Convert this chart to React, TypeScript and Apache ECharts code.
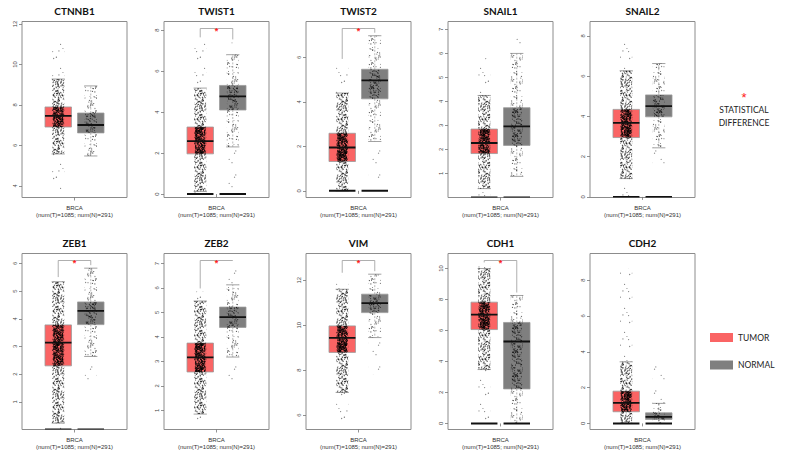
import React, { useEffect, useRef } from "react";
import * as echarts from "echarts";

// ---------------- data ----------------
const genes = ["CTNNB1", "TWIST1", "TWIST2", "SNAIL1", "SNAIL2", "ZEB1", "ZEB2", "VIM", "CDH1", "CDH2"];
const sampleLabel = "BRCA";
const countLabel = "(num(T)=1085; num(N)=291)";
const seriesNames = ["TUMOR", "NORMAL"];

// box statistics: [lower whisker, Q1, median, Q3, upper whisker]
const tumorStats = [
  [5.58, 6.91, 7.46, 7.9, 9.28],
  [0.13, 1.96, 2.58, 3.27, 5.17],
  [0.0, 1.32, 1.95, 2.59, 4.4],
  [0.37, 1.83, 2.27, 2.85, 4.25],
  [0.91, 2.95, 3.68, 4.35, 6.27],
  [0.23, 2.3, 3.14, 3.78, 5.34],
  [0.85, 2.57, 3.17, 3.75, 5.47],
  [7.01, 8.79, 9.44, 9.97, 11.6],
  [3.48, 6.06, 7.03, 7.83, 10.0],
  [0.0, 0.65, 1.15, 1.8, 3.44],
];
const normalStats = [
  [5.48, 6.62, 7.01, 7.6, 8.94],
  [2.3, 4.1, 4.77, 5.3, 6.8],
  [2.22, 4.14, 4.97, 5.47, 6.98],
  [0.88, 2.17, 2.96, 3.74, 6.0],
  [2.44, 3.98, 4.51, 5.07, 6.63],
  [2.64, 3.79, 4.29, 4.61, 5.83],
  [3.18, 4.39, 4.81, 5.22, 6.13],
  [9.45, 10.56, 10.98, 11.38, 12.27],
  [0.0, 2.23, 5.29, 6.52, 8.26],
  [0.0, 0.22, 0.37, 0.59, 1.12],
];
// extent of the individual sample points: [min, max]
const tumorExtent = [
  [3.75, 11.26], [0, 7.5], [0, 5.8], [0, 5.8], [0, 8.0],
  [0, 5.4], [0.47, 5.86], [5.66, 12.2], [0, 10.2], [0, 8.66],
];
const normalExtent = [
  [5.48, 8.94], [0.3, 7.4], [0.48, 6.98], [0.88, 6.77], [1.58, 6.63],
  [1.73, 5.83], [2.04, 7.0], [7.78, 12.27], [0, 8.26], [0, 3.66],
];
// cluster of samples with zero expression (1 = present)
const tumorZero = [0, 1, 1, 1, 1, 1, 0, 0, 1, 1];
const normalZero = [0, 1, 1, 1, 1, 1, 0, 0, 1, 1];
// statistically significant difference (1 = marked with *)
const significant = [0, 1, 1, 0, 0, 1, 1, 1, 1, 0];
// y axes
const yMin = [3.43, -0.17, -0.3, 0, -0.03, 0, 0.22, 5.36, -0.39, -0.34];
const yMax = [12.12, 8.42, 7.62, 7.33, 8.72, 6.36, 7.41, 13.19, 10.97, 9.49];
const yTicks = [
  [4, 6, 8, 10, 12],
  [0, 2, 4, 6, 8],
  [0, 2, 4, 6],
  [1, 2, 3, 4, 5, 6, 7],
  [0, 2, 4, 6, 8],
  [1, 2, 3, 4, 5, 6],
  [1, 2, 3, 4, 5, 6, 7],
  [6, 8, 10, 12],
  [0, 2, 4, 6, 8, 10],
  [0, 2, 4, 6, 8],
];

// ---------------- styling / layout ----------------
const TUMOR_COLOR = "#fa6464";
const NORMAL_COLOR = "#7f7f7f";
const GRID_LEFT0 = 22;
const COL_STEP = 142;
const GRID_W = 105;
const ROW_TOPS = [21.5, 253.5];
const GRID_H = 176;
const OFFSET = 0.155; // box centre offset from the category centre, fraction of band
const BOX_W = 0.252; // box width, fraction of band
const JITTER_W = 12;

// stipple texture standing in for the jittered sample dots (a fill style, not data)
function stipple(count: number, w: number, h: number, alpha: number, salt: number): string {
  const c = document.createElement("canvas");
  c.width = w;
  c.height = h;
  const ctx = c.getContext("2d")!;
  const frac = (v: number) => v - Math.floor(v);
  for (let i = 1; i <= count; i++) {
    const x = frac(Math.sin(i * 127.1 + salt * 17.3) * 43758.5453) * w;
    const y = frac(Math.sin(i * 311.7 + salt * 7.9) * 24634.6345) * h;
    const a = alpha * (0.55 + 0.45 * frac(Math.sin(i * 74.7 + salt) * 9631.7));
    ctx.fillStyle = `rgba(0,0,0,${a.toFixed(3)})`;
    ctx.beginPath();
    ctx.arc(x, y, 0.65, 0, Math.PI * 2);
    ctx.fill();
  }
  return c.toDataURL();
}
function pattern(url: string, w: number, h: number) {
  return { image: url, repeat: "repeat", imageWidth: w, imageHeight: h };
}

function makeBoxRenderer(side: number, color: string, tiles: any) {
  return (params: any, api: any) => {
    const c0 = api.coord([0, api.value(1)]);
    const band = api.size([1, 0])[0];
    const cx = c0[0] + side * OFFSET * band;
    const bw = BOX_W * band;
    const y = (k: number) => api.coord([0, api.value(k)])[1];
    const wLo = y(1), q1 = y(2), med = y(3), q3 = y(4), wHi = y(5), pMin = y(6), pMax = y(7);
    const zero = api.value(8);
    const y0 = api.coord([0, 0])[1];
    const children: any[] = [];
    // box
    children.push({
      type: "rect",
      shape: { x: cx - bw / 2, y: q3, width: bw, height: q1 - q3 },
      style: { fill: color, stroke: "#9a9a9a", lineWidth: 0.8 },
    });
    // whiskers
    const wStyle = { stroke: "#9a9a9a", lineWidth: 0.7, lineDash: [2, 1.5] };
    children.push({ type: "line", shape: { x1: cx, y1: q3, x2: cx, y2: wHi }, style: wStyle });
    children.push({ type: "line", shape: { x1: cx, y1: q1, x2: cx, y2: wLo }, style: wStyle });
    const capStyle = { stroke: "#8a8a8a", lineWidth: 0.8 };
    children.push({ type: "line", shape: { x1: cx - bw / 4, y1: wHi, x2: cx + bw / 4, y2: wHi }, style: capStyle });
    children.push({ type: "line", shape: { x1: cx - bw / 4, y1: wLo, x2: cx + bw / 4, y2: wLo }, style: capStyle });
    // sample dots texture
    children.push({
      type: "rect",
      shape: { x: cx - JITTER_W / 2, y: pMax, width: JITTER_W, height: pMin - pMax },
      style: { fill: tiles.sparse },
    });
    children.push({
      type: "rect",
      shape: { x: cx - JITTER_W / 2, y: wHi, width: JITTER_W, height: wLo - wHi },
      style: { fill: tiles.medium },
    });
    children.push({
      type: "rect",
      shape: { x: cx - JITTER_W / 2 + 1, y: q3, width: JITTER_W - 2, height: q1 - q3 },
      style: { fill: tiles.dense },
    });
    // median
    children.push({
      type: "line",
      shape: { x1: cx - bw / 2, y1: med, x2: cx + bw / 2, y2: med },
      style: { stroke: "#111", lineWidth: 1.8 },
    });
    if (zero) {
      children.push({
        type: "line",
        shape: { x1: cx - bw / 2, y1: y0, x2: cx + bw / 2, y2: y0 },
        style: { stroke: "#111", lineWidth: 2 },
      });
    }
    return { type: "group", children };
  };
}

function sigRenderer(params: any, api: any) {
  const c0 = api.coord([0, api.value(1)]);
  const band = api.size([1, 0])[0];
  const xl = c0[0] - OFFSET * band;
  const xr = c0[0] + OFFSET * band;
  const yb = params.coordSys.y + 7;
  const yl = Math.max(yb, api.coord([0, api.value(1)])[1] - 3);
  const yr = Math.max(yb, api.coord([0, api.value(2)])[1] - 3);
  return {
    type: "group",
    children: [
      {
        type: "polyline",
        shape: { points: [[xl, yl], [xl, yb], [xr, yb], [xr, yr]] },
        style: { stroke: "#9a9a9a", lineWidth: 0.8, fill: "none" },
      },
      {
        type: "text",
        x: c0[0],
        y: yb + 2.4,
        style: {
          text: "*",
          fill: "#ff2020",
          fontSize: 9,
          fontWeight: "bold",
          fontFamily: "Liberation Sans",
          align: "center",
          verticalAlign: "middle",
        },
      },
    ],
  };
}

function buildOption() {
  const W = 12;
  const H = 24;
  const tumorTiles = {
    dense: pattern(stipple(320, W, H, 0.9, 1), W, H),
    medium: pattern(stipple(95, W, H, 0.78, 2), W, H),
    sparse: pattern(stipple(6, W, H, 0.6, 3), W, H),
  };
  const normalTiles = {
    dense: pattern(stipple(60, W, H, 0.75, 4), W, H),
    medium: pattern(stipple(26, W, H, 0.7, 5), W, H),
    sparse: pattern(stipple(4, W, H, 0.6, 6), W, H),
  };

  const grid: any[] = [];
  const xAxis: any[] = [];
  const yAxis: any[] = [];
  const title: any[] = [];
  const series: any[] = [];

  genes.forEach((g, i) => {
    const col = i % 5;
    const row = Math.floor(i / 5);
    const left = GRID_LEFT0 + COL_STEP * col;
    const top = ROW_TOPS[row];
    grid.push({
      left,
      top,
      width: GRID_W,
      height: GRID_H,
      show: true,
      borderColor: "#8c8c8c",
      borderWidth: 1,
      backgroundColor: "transparent",
    });
    title.push({
      text: g,
      left: left + GRID_W / 2,
      top: top - 15.5,
      textAlign: "center",
      padding: 0,
      textStyle: { fontSize: 10, fontWeight: "bold", fontFamily: "Lato", color: "#111" },
    });
    xAxis.push({
      type: "category",
      gridIndex: i,
      data: [sampleLabel],
      axisLine: { show: false },
      axisTick: { show: true, alignWithLabel: true, length: 3, lineStyle: { color: "#777", width: 0.8 } },
      axisLabel: {
        formatter: (v: string) => `${v}\n${countLabel}`,
        fontSize: 6,
        lineHeight: 7,
        color: "#333",
        fontFamily: "Liberation Sans",
        margin: 7,
      },
      splitLine: { show: false },
    });
    yAxis.push({
      type: "value",
      gridIndex: i,
      min: yMin[i],
      max: yMax[i],
      axisLine: { show: false },
      axisTick: { show: true, length: 3, customValues: yTicks[i], lineStyle: { color: "#777", width: 0.8 } },
      axisLabel: {
        customValues: yTicks[i],
        rotate: 90,
        fontSize: 5.8,
        color: "#444",
        fontFamily: "Liberation Sans",
        margin: 4,
      },
      splitLine: { show: false },
    });
    series.push({
      type: "custom",
      name: seriesNames[0],
      xAxisIndex: i,
      yAxisIndex: i,
      clip: true,
      itemStyle: { color: TUMOR_COLOR },
      encode: { x: 0, y: [1, 2, 3, 4, 5] },
      data: [[0, ...tumorStats[i], ...tumorExtent[i], tumorZero[i]]],
      renderItem: makeBoxRenderer(-1, TUMOR_COLOR, tumorTiles),
      silent: true,
    });
    series.push({
      type: "custom",
      name: seriesNames[1],
      xAxisIndex: i,
      yAxisIndex: i,
      clip: true,
      itemStyle: { color: NORMAL_COLOR },
      encode: { x: 0, y: [1, 2, 3, 4, 5] },
      data: [[0, ...normalStats[i], ...normalExtent[i], normalZero[i]]],
      renderItem: makeBoxRenderer(1, NORMAL_COLOR, normalTiles),
      silent: true,
    });
    if (significant[i]) {
      series.push({
        type: "custom",
        name: "sig-" + g,
        xAxisIndex: i,
        yAxisIndex: i,
        clip: false,
        encode: { x: 0, y: [1, 2] },
        data: [[0, tumorExtent[i][1], normalExtent[i][1]]],
        renderItem: sigRenderer,
        silent: true,
      });
    }
  });

  return {
    animation: false,
    backgroundColor: "#ffffff",
    grid,
    xAxis,
    yAxis,
    title,
    series,
    legend: {
      data: seriesNames,
      orient: "vertical",
      left: 710,
      top: 333,
      itemWidth: 23,
      itemHeight: 9,
      itemGap: 18.5,
      icon: "rect",
      padding: 0,
      selectedMode: false,
      textStyle: { fontSize: 8.5, fontFamily: "Lato", color: "#222" },
    },
    graphic: [
      {
        type: "text",
        x: 744,
        y: 97,
        style: { text: "*", fill: "#ff2020", fontSize: 13, fontFamily: "Liberation Sans", align: "center", verticalAlign: "middle" },
      },
      {
        type: "text",
        x: 744,
        y: 110,
        style: { text: "STATISTICAL", fill: "#222", fontSize: 8.5, fontFamily: "Lato", align: "center", verticalAlign: "middle" },
      },
      {
        type: "text",
        x: 744,
        y: 122.7,
        style: { text: "DIFFERENCE", fill: "#222", fontSize: 8.5, fontFamily: "Lato", align: "center", verticalAlign: "middle" },
      },
    ],
  };
}

export default function App() {
  const ref = useRef<HTMLDivElement>(null);
  useEffect(() => {
    if (!ref.current) return;
    const chart = echarts.init(ref.current, null, { renderer: "svg" });
    chart.setOption(buildOption() as any);
    return () => chart.dispose();
  }, []);
  return (
    <div
      ref={ref}
      style={{ position: "fixed", left: 0, top: 0, width: 786, height: 459, background: "#fff" }}
    />
  );
}
